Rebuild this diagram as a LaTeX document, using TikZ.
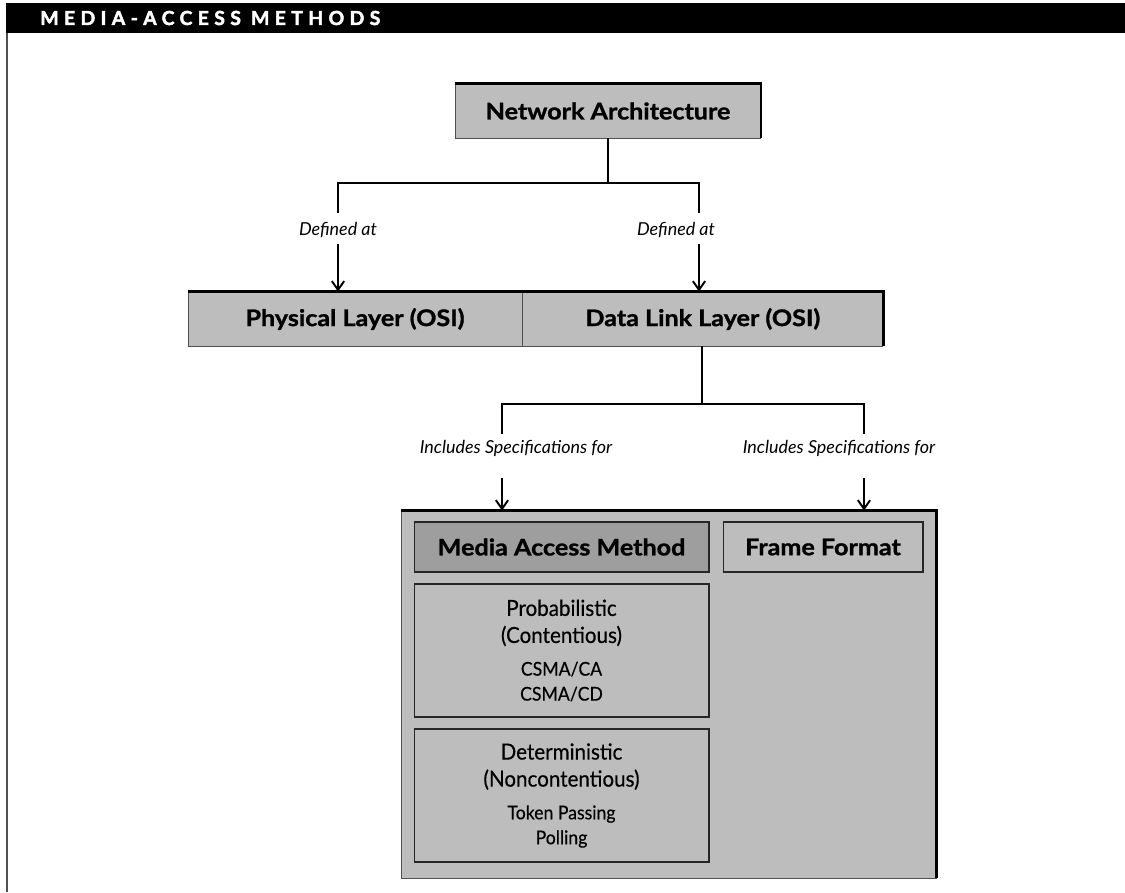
\documentclass[tikz,border=0pt]{standalone}
\usepackage{fontspec}
\setmainfont{Lato}
\newfontfamily\narrowfont[FakeStretch=0.93,FakeBold=0.4]{Lato}
\newfontfamily\boxfont[FakeStretch=1.1,FakeBold=1.2]{Lato}
\newfontfamily\headfont[LetterSpace=28,FakeBold=2.5]{Lato}
\usetikzlibrary{arrows.meta,positioning,calc}
\definecolor{boxgray}{HTML}{BDBDBD}
\definecolor{mamgray}{HTML}{9E9E9E}
\definecolor{edgegray}{HTML}{505050}

\begin{document}
\begin{tikzpicture}[x=0.02cm,y=-0.02cm,
    panel/.style={draw=edgegray, line width=0.5pt, fill=boxgray, inner sep=0pt,
        font=\boxfont\bfseries\fontsize{13}{15}\selectfont},
    inbox/.style={draw=black!85, line width=0.6pt, fill=boxgray, inner sep=0pt,
        align=center, font=\narrowfont\fontsize{12.6}{14.2}\selectfont},
    lbl/.style={font=\itshape\fontsize{10.2}{12}\selectfont, inner sep=1pt},
    wire/.style={line width=1.1pt, black},
    arr/.style={wire, -{Straight Barb[length=5pt,width=7pt,line width=1.1pt]}},
    rim/.style={line width=1.5pt, black, line join=miter}]
    \useasboundingbox (0,0) rectangle (1125,892);
    % title bar
    \fill[black] (6,3) rectangle (1125,33);
    \draw[edgegray, line width=1.1pt] (7,33) -- (7,892);
    \node[anchor=west, text=white, inner sep=0pt,
        font=\headfont\bfseries\fontsize{11}{13}\selectfont] (title) at (40,18) {MEDIA-ACCESS METHODS};

    % top level
    \node[panel, minimum width=6.1cm, minimum height=1.08cm] (net) at (608,111) {Network Architecture};
    % layers
    \node[panel, minimum width=6.68cm, minimum height=1.08cm] (phy) at (355,319) {Physical Layer (OSI)};
    \node[panel, minimum width=7.2cm, minimum height=1.08cm, anchor=west] (link) at (phy.east) {Data Link Layer (OSI)};
    \draw[rim] (phy.north west) -- (link.north east) -- (link.south east);
    \draw[rim] (net.north west) -- (net.north east) -- (net.south east);

    % specification box
    \node[panel, minimum width=10.7cm, minimum height=7.34cm] (spec) at (668.5,694.5) {};
    \draw[rim] (spec.north west) -- (spec.north east) -- (spec.south east);
    \node[inbox, fill=mamgray, minimum width=5.9cm, minimum height=1cm,
        font=\boxfont\bfseries\fontsize{13}{15}\selectfont] (mam) at (561.5,547) {Media Access Method};
    \node[inbox, minimum width=4cm, minimum height=1cm,
        font=\boxfont\bfseries\fontsize{13}{15}\selectfont] (frame) at (823,547) {Frame Format};
    \node[inbox, minimum width=5.9cm, minimum height=2.66cm] (prob) at (561.5,650.5)
        {Probabilistic\\[1.2pt](Contentious)\\[4.4pt]{\fontsize{10.8}{12}\selectfont CSMA/CA}\\{\fontsize{10.8}{12}\selectfont CSMA/CD}};
    \node[inbox, minimum width=5.9cm, minimum height=2.66cm] (det) at (561.5,795.5)
        {Deterministic\\[1.2pt](Noncontentious)\\[4.4pt]{\fontsize{10.8}{12}\selectfont Token Passing}\\{\fontsize{10.8}{12}\selectfont Polling}};

    % labels
    \node[lbl] (defphy) at (338,230) {Defined at};
    \node[lbl] (deflink) at (676,230) {Defined at};
    \node[lbl] (incmam) at (516,448) {Includes Specifications for};
    \node[lbl] (incfrm) at (839,448) {Includes Specifications for};

    % connectors: architecture -> layers
    \coordinate (netsplit) at (608,183);
    \coordinate (phytop) at (338,213);
    \coordinate (linktop) at (699,213);
    \coordinate (phyarr) at (338,244);
    \coordinate (linkarr) at (699,244);
    \draw[wire] (net.south -| netsplit) -- (netsplit);
    \draw[wire] (phytop) |- (netsplit) -| (linktop);
    \draw[arr] (phyarr) -- (phyarr |- phy.north);
    \draw[arr] (linkarr) -- (linkarr |- link.north);

    % connectors: data link -> specifications
    \coordinate (linksplit) at (702,404);
    \coordinate (mamtop) at (502,434);
    \coordinate (frmtop) at (864,434);
    \coordinate (mamarr) at (502,478);
    \coordinate (frmarr) at (864,478);
    \draw[wire] (link.south -| linksplit) -- (linksplit);
    \draw[wire] (mamtop) |- (linksplit) -| (frmtop);
    \draw[arr] (mamarr) -- (mamarr |- spec.north);
    \draw[arr] (frmarr) -- (frmarr |- spec.north);
\end{tikzpicture}
\end{document}
